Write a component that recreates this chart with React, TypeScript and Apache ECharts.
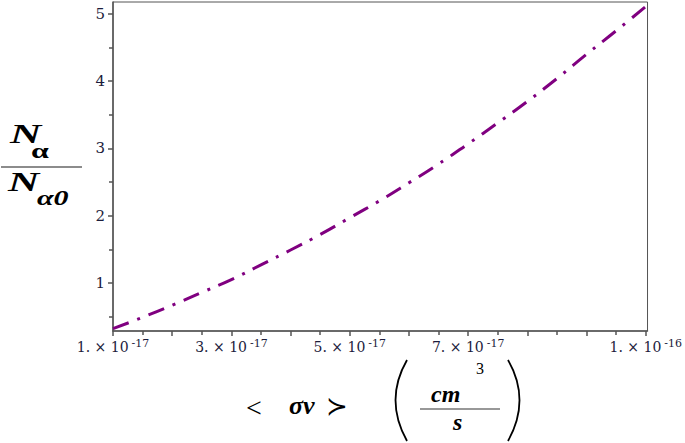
import React, { useEffect, useRef } from "react";
import * as echarts from "echarts";

// x values in units of 1e-17 cm^3/s
const xScaleExponent = "-17";
const sigmaV = [1, 1.5, 2, 2.5, 3, 3.5, 4, 4.5, 5, 5.5, 6, 6.5, 7, 7.5, 8, 8.5, 9, 9.5, 10];
const ratio = [0.32, 0.49, 0.67, 0.86, 1.05, 1.27, 1.49, 1.72, 1.97, 2.22, 2.49, 2.77, 3.07, 3.38, 3.7, 4.04, 4.4, 4.75, 5.11];
const xMajorTicks = [1, 2, 3, 4, 5, 6, 7, 8, 9, 10];
const xMinorTicks = [1.5, 2.5, 3.5, 4.5, 5.5, 6.5, 7.5, 8.5, 9.5];
const xLabelTicks = [1, 3, 5, 7, 10];
const yMajorTicks = [1, 2, 3, 4, 5];
const yMinorTicks = [0.5, 1.5, 2.5, 3.5, 4.5];

const SERIF = "'Liberation Serif', 'DejaVu Serif', serif";
const TICKFONT = "'DejaVu Serif', serif";
const AXIS = "#555";
const LABEL = "#1c1c3c";

export default function App() {
  const ref = useRef<HTMLDivElement>(null);
  useEffect(() => {
    document.body.style.margin = "0";
    const chart = echarts.init(ref.current!, null, { renderer: "svg" });
    const data = sigmaV.map((x, i) => [x, ratio[i]]);
    const fmtX = (v: number) => {
      if (v === 10) return "{a|1. × 10}{b|-16}";
      return `{a|${v}. × 10}{b|${xScaleExponent}}`;
    };
    const xRich = {
      a: { fontFamily: TICKFONT, fontSize: 14, color: LABEL, padding: [6, 0, 0, 0] },
      b: { fontFamily: TICKFONT, fontSize: 11, color: LABEL, padding: [0, 0, 2, 3] },
    };
    const txt = (text: string, x: number, y: number, font: string, scaleX = 1) => ({
      type: "text",
      x,
      y,
      scaleX,
      style: { text, font, fill: "#000", verticalAlign: "top", align: "left" },
    });
    chart.setOption({
      animation: false,
      grid: { left: 113, top: 2, width: 535, height: 329, show: true, borderColor: AXIS, borderWidth: 1, backgroundColor: "#fff" },
      xAxis: [
        {
          type: "value", min: 1, max: 10.03, position: "bottom",
          axisLine: { show: true, lineStyle: { color: AXIS, width: 1.5 } },
          axisTick: { show: true, customValues: xMajorTicks, length: 5, lineStyle: { color: AXIS, width: 1.5 } },
          axisLabel: { customValues: xLabelTicks, formatter: fmtX, rich: xRich, margin: 3, fontSize: 14, fontFamily: TICKFONT },
          splitLine: { show: false },
        },
        {
          type: "value", min: 1, max: 10.03, position: "bottom",
          axisLine: { show: false },
          axisTick: { show: true, customValues: xMinorTicks, length: 4, lineStyle: { color: AXIS, width: 1.5 } },
          axisLabel: { show: false },
          splitLine: { show: false },
        },
      ],
      yAxis: [
        {
          type: "value", min: 0.286, max: 5.178, position: "left",
          axisLine: { show: true, lineStyle: { color: AXIS, width: 1.5 } },
          axisTick: { show: true, customValues: yMajorTicks, length: 5, lineStyle: { color: AXIS, width: 1.5 } },
          axisLabel: { customValues: yMajorTicks, fontFamily: TICKFONT, fontSize: 15, color: LABEL, margin: 8 },
          splitLine: { show: false },
        },
        {
          type: "value", min: 0.286, max: 5.178, position: "left",
          axisLine: { show: false },
          axisTick: { show: true, customValues: yMinorTicks, length: 4, lineStyle: { color: AXIS, width: 1.5 } },
          axisLabel: { show: false },
          splitLine: { show: false },
        },
      ],
      series: [
        {
          type: "line",
          data,
          xAxisIndex: 0,
          yAxisIndex: 0,
          smooth: true,
          showSymbol: false,
          lineStyle: { color: "#800080", width: 3, type: [17, 9, 3, 9] },
        },
      ],
      graphic: [
        // y-axis title: N_alpha / N_alpha0
        txt("N", 10, 121, `italic bold 27px ${SERIF}`, 1.6),
        txt("α", 31, 141, `bold 20px ${SERIF}`, 1.6),
        { type: "line", shape: { x1: 1, y1: 167, x2: 82, y2: 167 }, style: { stroke: "#666", lineWidth: 1.5 } },
        txt("N", 8, 169, `italic bold 27px ${SERIF}`, 1.6),
        txt("α0", 37, 188, `italic bold 20px ${SERIF}`, 1.5),
        // x-axis title
        txt("<", 246, 393, `28px ${SERIF}`),
        txt("σv", 289, 392, `italic bold 26px ${SERIF}`),
        txt("≻", 326, 393, `26px ${SERIF}`),
        { type: "bezierCurve", shape: { x1: 407, y1: 360, x2: 407, y2: 441, cpx1: 384, cpy1: 400 }, style: { stroke: "#000", lineWidth: 1.8, fill: null } },
        { type: "bezierCurve", shape: { x1: 508, y1: 360, x2: 508, y2: 441, cpx1: 531, cpy1: 400 }, style: { stroke: "#000", lineWidth: 1.8, fill: null } },
        txt("3", 476, 360, `16px ${SERIF}`),
        txt("cm", 431, 382, `italic bold 24px ${SERIF}`),
        { type: "line", shape: { x1: 420, y1: 409, x2: 500, y2: 409 }, style: { stroke: "#333", lineWidth: 1.2 } },
        txt("s", 453, 410, `italic bold 24px ${SERIF}`),
      ],
    });
    return () => chart.dispose();
  }, []);
  return <div ref={ref} style={{ width: 685, height: 443 }} />;
}
